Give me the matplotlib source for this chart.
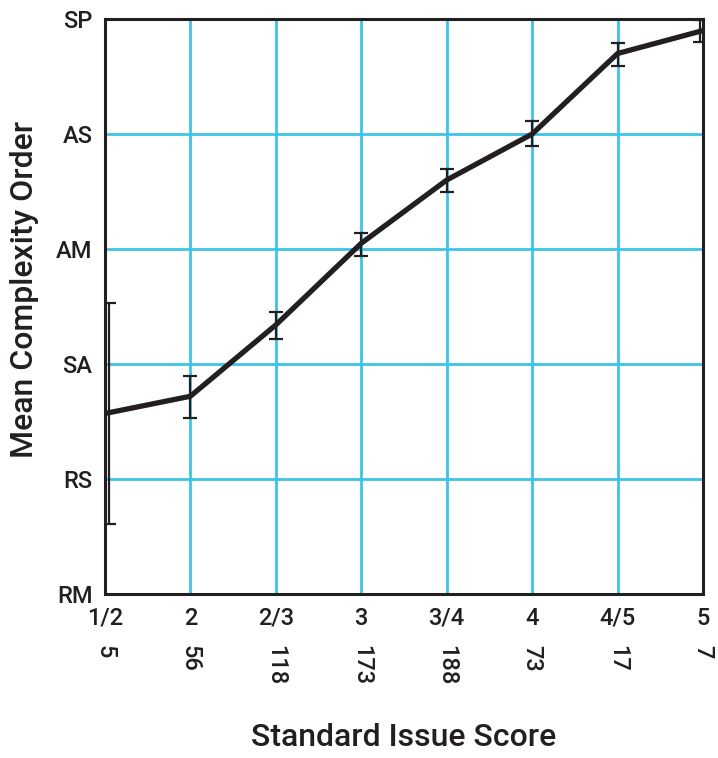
import numpy as np
import matplotlib.pyplot as plt

plt.rcParams['font.family'] = ['Roboto', 'DejaVu Sans']
plt.rcParams['font.weight'] = 'medium'
plt.rcParams['axes.labelweight'] = 'medium'

score_labels = ['1/2', '2', '2/3', '3', '3/4', '4', '4/5', '5']
counts = ['5', '56', '118', '173', '188', '73', '17', '7']
order_labels = ['RM', 'RS', 'SA', 'AM', 'AS', 'SP']

mean_order = [1.57, 1.72, 2.34, 3.05, 3.60, 4.00, 4.70, 4.90]
err_low = [0.96, 0.19, 0.12, 0.11, 0.10, 0.10, 0.11, 0.10]
err_high = [0.96, 0.18, 0.11, 0.09, 0.10, 0.11, 0.09, 0.09]

cyan = '#3cc3e6'
ink = '#231f20'

fig = plt.figure(figsize=(7.18, 7.58), dpi=100)
ax = fig.add_axes([0.1462, 0.2163, 0.8329, 0.7586])

x = np.arange(len(score_labels))

# grid lines drawn by hand so they stop short of the spines
for xi in x[1:-1]:
    ax.axvline(xi, color=cyan, lw=2, zorder=1)
for yi in range(1, len(order_labels) - 1):
    ax.plot([0.04, 7], [yi, yi], color=cyan, lw=2, zorder=1)

ax.plot(x, mean_order, color=ink, lw=3.8, solid_joinstyle='miter', zorder=3)
ex = x.astype(float)
ex[0] = 0.05
ex[-1] = 6.97
ax.errorbar(ex, mean_order, yerr=[err_low, err_high], fmt='none',
            ecolor=ink, elinewidth=1.6, capsize=5, capthick=1.6, zorder=4)

ax.set_xlim(0, 7)
ax.set_ylim(0, 5)
ax.set_xticks(x)
ax.set_xticklabels(score_labels, fontsize=17)
ax.set_yticks(range(len(order_labels)))
ax.set_yticklabels(order_labels, fontsize=17)
ax.tick_params(length=0, pad=9, colors=ink)
ax.tick_params(axis='x', pad=9)

for s in ax.spines.values():
    s.set_linewidth(2.2)
    s.set_color(ink)

for xi, c in zip(x, counts):
    ax.text(xi, -0.44, c, rotation=-90, ha='center', va='top',
            fontsize=17, color=ink)

ax.set_ylabel('Mean Complexity Order', fontsize=23, color=ink,
              fontweight='medium')
ax.yaxis.set_label_coords(-0.11, 0.53)
fig.text(0.5625, 0.008, 'Standard Issue Score', ha='center', va='bottom',
         fontsize=23, color=ink, fontweight='medium')

fig.savefig('out.png', dpi=100)
